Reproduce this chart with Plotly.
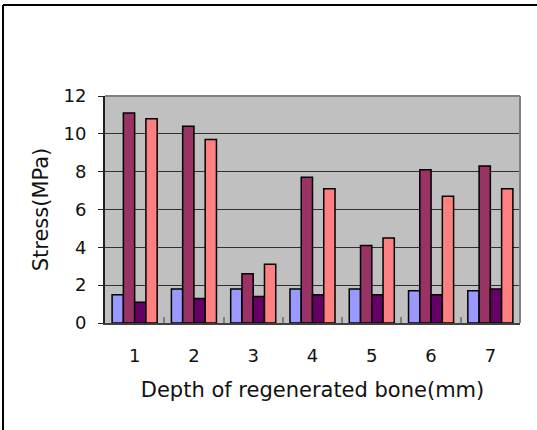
import plotly.graph_objects as go

categories = ["1", "2", "3", "4", "5", "6", "7"]
series_a = [1.5, 1.8, 1.8, 1.8, 1.8, 1.7, 1.7]
series_b = [11.1, 10.4, 2.6, 7.7, 4.1, 8.1, 8.3]
series_c = [1.1, 1.3, 1.4, 1.5, 1.5, 1.5, 1.8]
series_d = [10.8, 9.7, 3.1, 7.1, 4.5, 6.7, 7.1]
y_ticks = [0, 2, 4, 6, 8, 10, 12]

colors = ["#9999FF", "#993366", "#660066", "#FF8080"]
names = ["A", "B", "C", "D"]

fig = go.Figure()
for name, vals, col in zip(names, [series_a, series_b, series_c, series_d], colors):
    fig.add_trace(go.Bar(x=categories, y=vals, name=name,
                         marker=dict(color=col, line=dict(color="black", width=1.5))))

FONT = "DejaVu Sans"
TXT = "#111111"
fig.update_layout(
    width=537, height=430,
    margin=dict(l=105, r=17, t=96, b=107),
    paper_bgcolor="white", plot_bgcolor="#C0C0C0",
    barmode="group", bargap=0.24, bargroupgap=0,
    showlegend=False,
    font=dict(family=FONT, size=18, color=TXT),
    xaxis=dict(type="category", tickson="boundaries", ticks="inside", ticklen=6,
               tickcolor="#808080", tickwidth=2,
               showline=True, linecolor="#404040", linewidth=2,
               ticklabelstandoff=15,
               title=dict(text="Depth of regenerated bone(mm)", font=dict(size=21), standoff=18),
               tickfont=dict(size=18)),
    yaxis=dict(range=[0, 12], tickvals=y_ticks, ticks="outside", ticklen=5,
               tickcolor="#202020", showline=True, linecolor="#202020", linewidth=2,
               showgrid=True, gridcolor="#303030", gridwidth=1, zeroline=False,
               ticklabelstandoff=8,
               title=dict(text="Stress(MPa)", font=dict(size=21), standoff=9),
               tickfont=dict(size=18)),
    shapes=[
        dict(type="line", xref="paper", yref="paper", x0=0, x1=1, y0=1, y1=1,
             line=dict(color="#808080", width=2)),
        dict(type="line", xref="paper", yref="paper", x0=1, x1=1, y0=0, y1=1,
             line=dict(color="#808080", width=2)),
        # outer frame (top and left)
        dict(type="line", xref="paper", yref="paper",
             x0=-102/415, x1=1+17/415, y0=1+91/227, y1=1+91/227,
             line=dict(color="black", width=2)),
        dict(type="line", xref="paper", yref="paper",
             x0=-102/415, x1=-102/415, y0=-107/227, y1=1+91/227,
             line=dict(color="black", width=2)),
    ],
)
fig.write_html("out.html")
